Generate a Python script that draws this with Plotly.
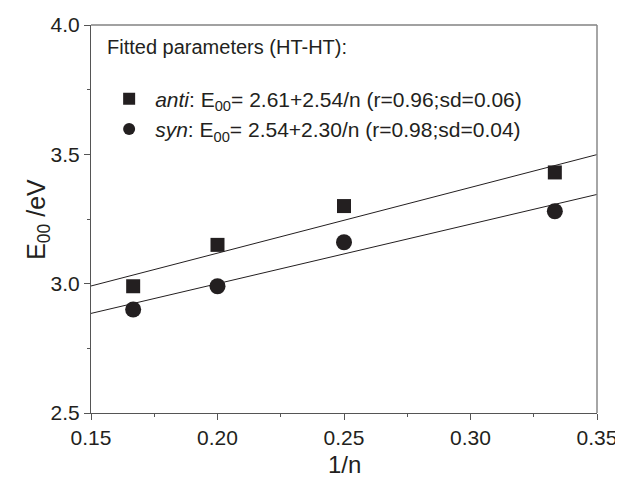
import plotly.graph_objects as go

inv_n = [1/6, 1/5, 1/4, 1/3]
anti_E = [2.99, 3.15, 3.30, 3.43]
syn_E = [2.90, 2.99, 3.16, 3.28]

fit_names = ["anti", "syn"]
fit_intercept = [2.61, 2.54]
fit_slope = [2.54, 2.30]
fit_r = [0.96, 0.98]
fit_sd = [0.06, 0.04]

x_range = [0.15, 0.35]
y_range = [2.5, 4.0]

ink = "#231f20"
font_fam = "Liberation Sans, Arial, sans-serif"

fig = go.Figure()

for a, b in zip(fit_intercept, fit_slope):
    fig.add_trace(go.Scatter(
        x=x_range, y=[a + b * x for x in x_range], mode="lines",
        line=dict(color=ink, width=1), showlegend=False, hoverinfo="skip"))

labels = []
for i, nm in enumerate(fit_names):
    labels.append(f"<i>{nm}</i>: E<sub>00</sub>= {fit_intercept[i]:.2f}+{fit_slope[i]:.2f}/n "
                  f"(r={fit_r[i]:.2f};sd={fit_sd[i]:.2f})")

fig.add_trace(go.Scatter(x=inv_n, y=anti_E, mode="markers", name=labels[0],
                         marker=dict(symbol="square", size=14, color=ink)))
fig.add_trace(go.Scatter(x=inv_n, y=syn_E, mode="markers", name=labels[1],
                         marker=dict(symbol="circle", size=16, color=ink)))

fig.add_annotation(x=0.0, y=0.943, xref="paper", yref="paper",
                   xanchor="left", yanchor="middle", xshift=14,
                   text="Fitted parameters (HT-HT):", showarrow=False,
                   font=dict(size=20, color=ink, family=font_fam))

# axis titles
fig.add_annotation(x=-0.105, y=0.5, xref="paper", yref="paper",
                   xanchor="center", yanchor="middle", textangle=-90,
                   text="E<sub>00</sub> /eV", showarrow=False,
                   font=dict(size=25, color=ink, family=font_fam))
fig.add_annotation(x=0.5, y=-0.134, xref="paper", yref="paper",
                   xanchor="center", yanchor="middle",
                   text="1/n", showarrow=False,
                   font=dict(size=24, color=ink, family=font_fam))

axis_common = dict(showline=True, linecolor="#555555", linewidth=1.2,
                   mirror=False, showgrid=False, zeroline=False, automargin=False,
                   ticks="outside", ticklen=6, tickcolor="#555555",
                   tickfont=dict(size=21, color=ink, family=font_fam))

fig.update_xaxes(range=x_range, tickvals=[0.15, 0.20, 0.25, 0.30, 0.35],
                 ticktext=["0.15", "0.20", "0.25", "0.30", "0.35"],
                 minor=dict(ticks="outside", ticklen=3, dtick=0.025, tickcolor="#555555"),
                 **axis_common)
fig.update_yaxes(range=y_range, tickvals=[2.5, 3.0, 3.5, 4.0],
                 ticktext=["2.5", "3.0", "3.5", "4.0"],
                 minor=dict(ticks="outside", ticklen=3, dtick=0.25, tickcolor="#555555"),
                 **axis_common)

# frame top/right
fig.add_shape(type="line", xref="paper", yref="paper", x0=0, x1=1, y0=1, y1=1,
              line=dict(color="#444444", width=1.2))
fig.add_shape(type="line", xref="paper", yref="paper", x0=1, x1=1, y0=0, y1=1,
              line=dict(color="#888888", width=1.5))

fig.update_layout(
    width=615, height=472,
    margin=dict(l=83, r=26, t=17, b=67),
    paper_bgcolor="white", plot_bgcolor="white",
    font=dict(family=font_fam, color=ink),
    legend=dict(x=0.024, y=0.862, xanchor="left", yanchor="top",
                bgcolor="rgba(0,0,0,0)", font=dict(size=21, color=ink, family=font_fam),
                itemsizing="constant", itemwidth=42, tracegroupgap=0),
)

fig.write_html("out.html")
